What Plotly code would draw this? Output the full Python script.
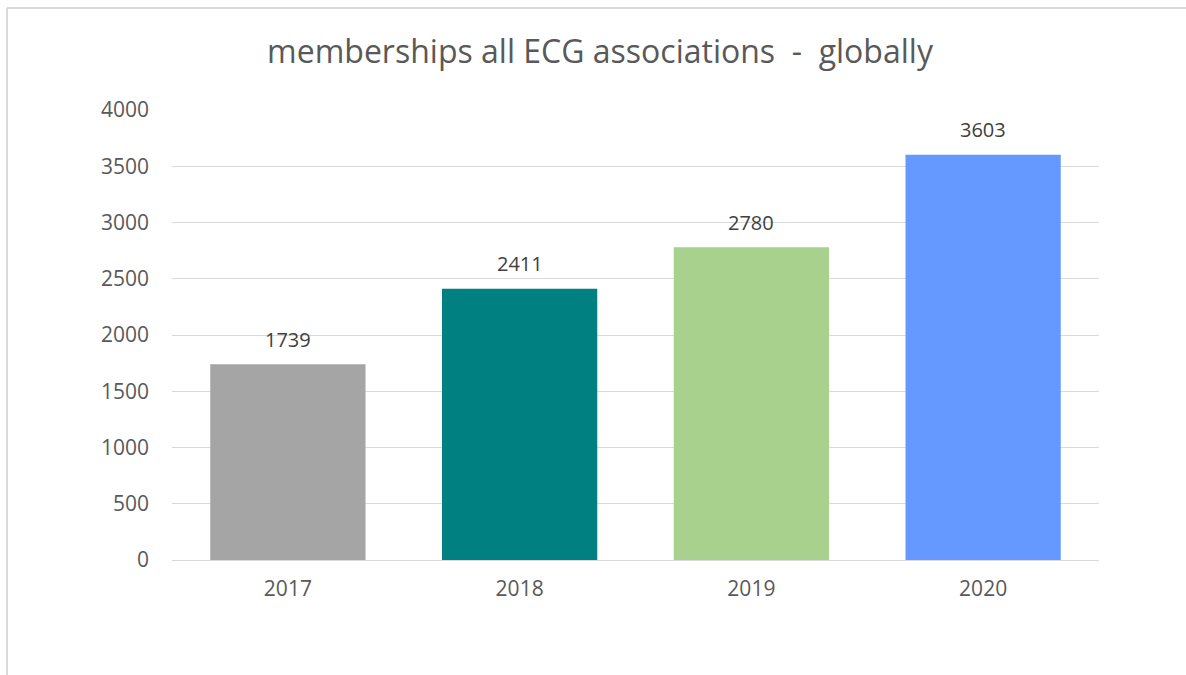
import plotly.graph_objects as go

years = ["2017", "2018", "2019", "2020"]
members = [1739, 2411, 2780, 3603]
colors = ["#A5A5A5", "#008080", "#A9D18E", "#6699FF"]
y_ticks = [0, 500, 1000, 1500, 2000, 2500, 3000, 3500, 4000]

W, H = 1186, 675
L, R, T, B = 172, 87, 110, 115
pw, ph = W - L - R, H - T - B

fig = go.Figure()
fig.add_trace(go.Bar(x=years, y=members, marker=dict(color=colors, line=dict(width=0)),
                     hoverinfo="x+y"))

# data labels (category index positions on the category axis)
for i, v in enumerate(members):
    fig.add_annotation(x=i, y=v, text=str(v), showarrow=False, yanchor="middle",
                       yshift=25, font=dict(family="Open Sans", size=20, color="#404040"))

def px2x(px):
    return (px - L) / pw

def py2y(py):
    return (H - B - py) / ph

# chart frame (cropped)
fig.add_shape(type="line", xref="paper", yref="paper", x0=px2x(7), x1=px2x(1190),
              y0=py2y(8), y1=py2y(8), line=dict(color="#D9D9D9", width=2))
fig.add_shape(type="line", xref="paper", yref="paper", x0=px2x(7), x1=px2x(7),
              y0=py2y(8), y1=py2y(680), line=dict(color="#D9D9D9", width=2))

fig.update_layout(
    width=W, height=H,
    margin=dict(l=L, r=R, t=T, b=B, autoexpand=False),
    paper_bgcolor="white", plot_bgcolor="white",
    bargap=0.33,
    showlegend=False,
    title=dict(text="memberships all ECG associations \u00a0-\u00a0 globally",
               x=600 / W, xanchor="center", xref="container",
               y=1 - 52 / H, yanchor="middle", yref="container",
               font=dict(family="Open Sans", size=32, color="#595959")),
    xaxis=dict(type="category", showgrid=False, showline=True, linecolor="#D9D9D9",
               linewidth=1, ticks="",
               tickfont=dict(family="Open Sans", size=21, color="#595959"),
               ticklabelstandoff=10),
    yaxis=dict(range=[0, 4000], tickvals=y_ticks, showgrid=True, gridcolor="#D9D9D9",
               gridwidth=1, zeroline=False, showline=False, ticks="",
               tickfont=dict(family="Open Sans", size=21, color="#595959"),
               ticklabelstandoff=22),
)

fig.write_html("out.html", config={"displayModeBar": False},
               post_script="document.body.style.margin='0';")
